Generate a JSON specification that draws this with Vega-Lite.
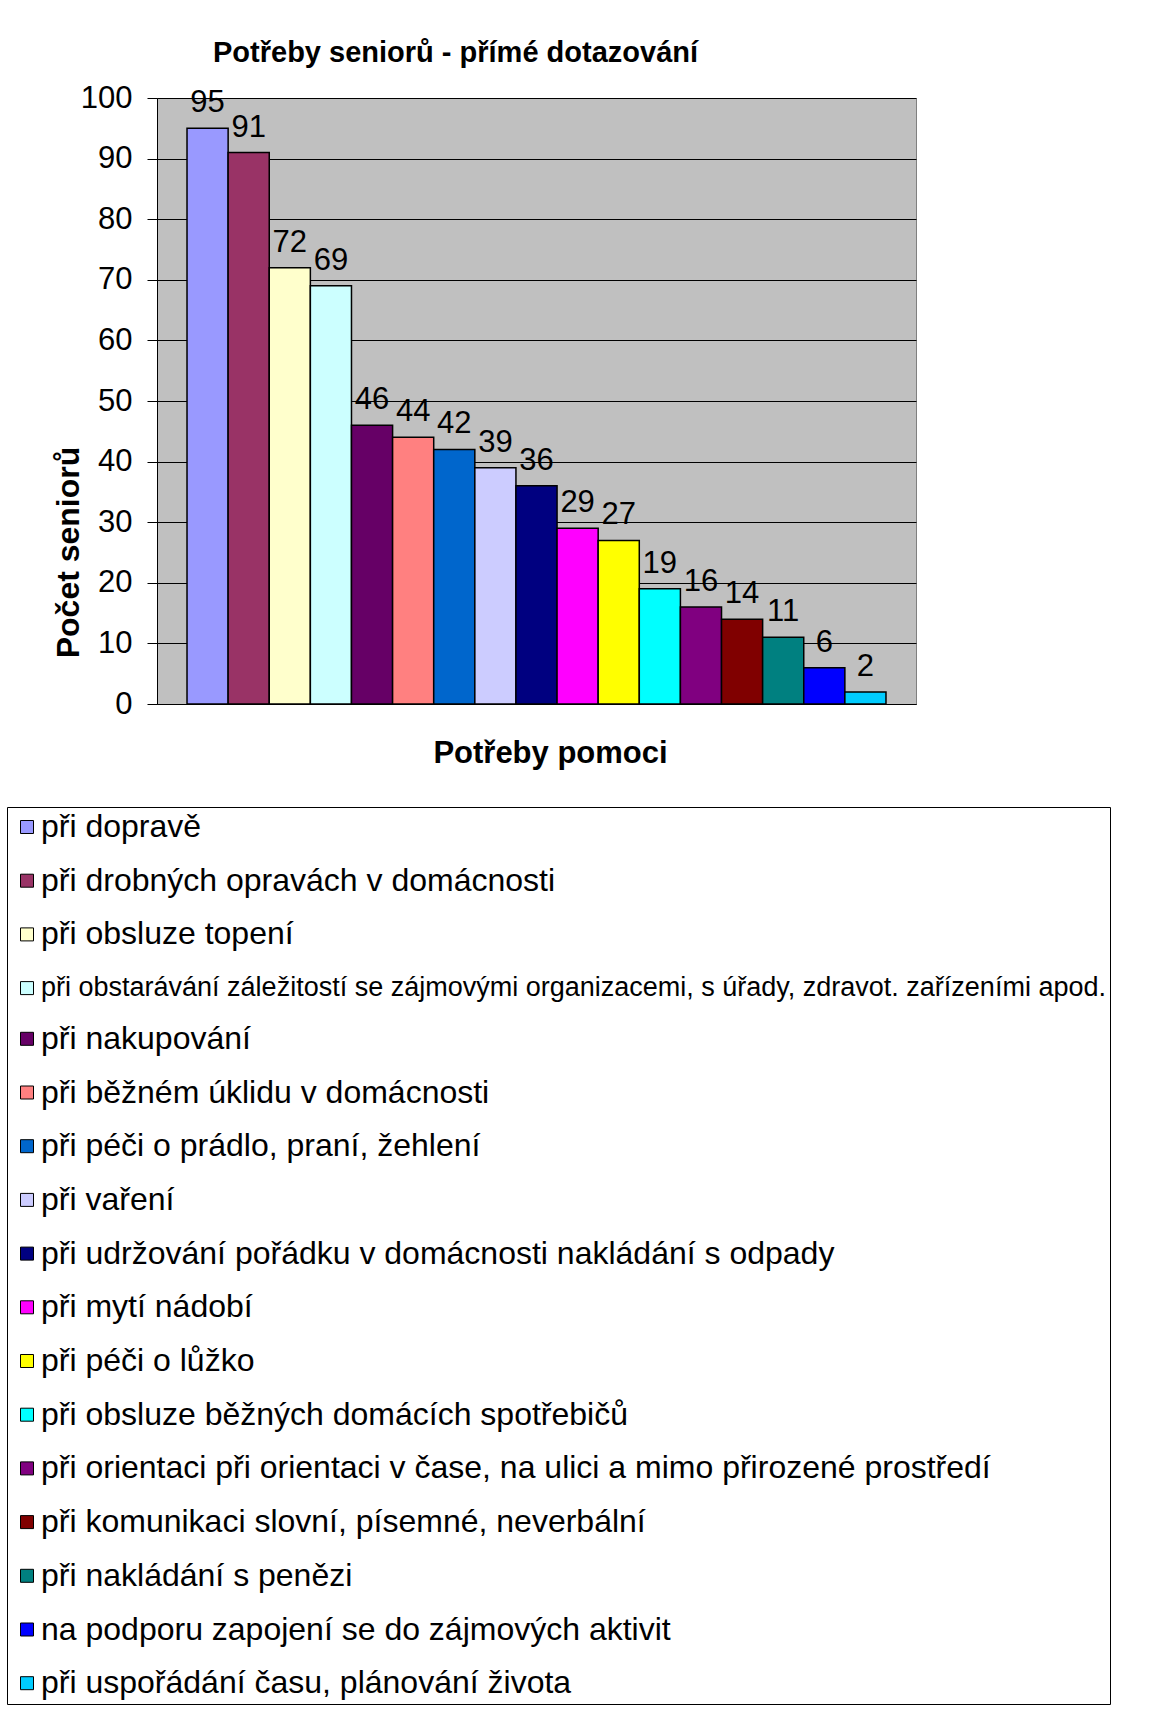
{
  "$schema": "https://vega.github.io/schema/vega-lite/v6.json",
  "width": 759,
  "height": 606,
  "autosize": {"type": "none"},
  "padding": {"left": 157, "top": 98, "right": 242, "bottom": 1027},
  "background": "white",
  "title": {
    "text": "Potřeby seniorů - přímé dotazování",
    "anchor": "start",
    "frame": "group",
    "dx": 56,
    "dy": 28,
    "font": "Liberation Sans",
    "fontSize": 29,
    "fontWeight": "bold",
    "color": "black",
    "baseline": "alphabetic",
    "offset": 19
  },
  "data": {
    "values": [
      {"potreba": "při dopravě", "pocet": 95},
      {"potreba": "při drobných opravách v domácnosti", "pocet": 91},
      {"potreba": "při obsluze topení", "pocet": 72},
      {"potreba": "při obstarávání záležitostí se zájmovými organizacemi, s úřady, zdravot. zařízeními apod.", "pocet": 69},
      {"potreba": "při nakupování", "pocet": 46},
      {"potreba": "při  běžném úklidu v domácnosti", "pocet": 44},
      {"potreba": "při péči o prádlo, praní, žehlení", "pocet": 42},
      {"potreba": "při vaření", "pocet": 39},
      {"potreba": "při udržování pořádku v domácnosti nakládání s odpady", "pocet": 36},
      {"potreba": "při mytí nádobí", "pocet": 29},
      {"potreba": "při péči o lůžko", "pocet": 27},
      {"potreba": "při obsluze běžných domácích spotřebičů", "pocet": 19},
      {"potreba": "při orientaci při orientaci v čase, na ulici a mimo přirozené prostředí", "pocet": 16},
      {"potreba": "při komunikaci slovní, písemné, neverbální", "pocet": 14},
      {"potreba": "při nakládání s penězi", "pocet": 11},
      {"potreba": "na podporu zapojení se do zájmových aktivit", "pocet": 6},
      {"potreba": "při uspořádání času, plánování života", "pocet": 2}
    ]
  },
  "encoding": {
    "x": {
      "field": "potreba",
      "type": "nominal",
      "sort": null,
      "scale": {"paddingInner": 0, "paddingOuter": 0.73},
      "axis": {
        "labels": false,
        "ticks": false,
        "grid": false,
        "domainColor": "black",
        "domainWidth": 1,
        "title": "Potřeby pomoci",
        "titleFont": "Liberation Sans",
        "titleFontSize": 31,
        "titleFontWeight": "bold",
        "titleColor": "black",
        "titleX": 393,
        "titleY": 58,
        "titleAlign": "center",
        "titleBaseline": "alphabetic"
      }
    },
    "y": {
      "field": "pocet",
      "type": "quantitative",
      "scale": {"domain": [0, 100], "nice": false},
      "axis": {
        "values": [0, 10, 20, 30, 40, 50, 60, 70, 80, 90, 100],
        "grid": true,
        "gridColor": "black",
        "gridWidth": 1,
        "domainColor": "black",
        "domainWidth": 1,
        "tickColor": "black",
        "tickSize": 10,
        "labelFont": "Liberation Sans",
        "labelFontSize": 31,
        "labelColor": "black",
        "labelPadding": 15,
        "title": "Počet seniorů",
        "titleFont": "Liberation Sans",
        "titleFontSize": 32,
        "titleFontWeight": "bold",
        "titleColor": "black",
        "titleX": -79,
        "titleY": 454,
        "titleAngle": -90,
        "titleAlign": "center",
        "titleBaseline": "alphabetic"
      }
    }
  },
  "layer": [
    {
      "mark": {"type": "bar", "stroke": "black", "strokeWidth": 1.5},
      "encoding": {
        "color": {
          "field": "potreba",
          "type": "nominal",
          "sort": null,
          "scale": {
            "domain": [
              "při dopravě",
              "při drobných opravách v domácnosti",
              "při obsluze topení",
              "při obstarávání záležitostí se zájmovými organizacemi, s úřady, zdravot. zařízeními apod.",
              "při nakupování",
              "při  běžném úklidu v domácnosti",
              "při péči o prádlo, praní, žehlení",
              "při vaření",
              "při udržování pořádku v domácnosti nakládání s odpady",
              "při mytí nádobí",
              "při péči o lůžko",
              "při obsluze běžných domácích spotřebičů",
              "při orientaci při orientaci v čase, na ulici a mimo přirozené prostředí",
              "při komunikaci slovní, písemné, neverbální",
              "při nakládání s penězi",
              "na podporu zapojení se do zájmových aktivit",
              "při uspořádání času, plánování života"
            ],
            "range": [
              "#9999FF", "#993366", "#FFFFCC", "#CCFFFF", "#660066", "#FF8080",
              "#0066CC", "#CCCCFF", "#000080", "#FF00FF", "#FFFF00", "#00FFFF",
              "#800080", "#800000", "#008080", "#0000FF", "#00CCFF"
            ]
          },
          "legend": {
            "orient": "none",
            "legendX": -150,
            "legendY": 709,
            "direction": "vertical",
            "title": null,
            "strokeColor": "black",
            "fillColor": "white",
            "padding": 4,
            "symbolType": "square",
            "symbolSize": 169,
            "symbolStrokeColor": "black",
            "symbolStrokeWidth": 1,
            "symbolOffset": 0,
            "labelOffset": -2,
            "labelFont": "Liberation Sans",
            "labelFontSize": 32,
            "labelColor": "black",
            "labelLimit": 2000,
            "rowPadding": 21.7,
            "encode": {
              "labels": {
                "update": {
                  "fontSize": {"signal": "datum.value == 'při obstarávání záležitostí se zájmovými organizacemi, s úřady, zdravot. zařízeními apod.' ? 27 : 32"}
                }
              }
            }
          }
        }
      }
    },
    {
      "mark": {"type": "text", "baseline": "alphabetic", "dy": -16, "fontSize": 31, "font": "Liberation Sans", "color": "black"},
      "encoding": {"text": {"field": "pocet", "type": "quantitative"}}
    }
  ],
  "config": {"view": {"fill": "#C0C0C0", "stroke": "#808080", "strokeWidth": 1}}
}
